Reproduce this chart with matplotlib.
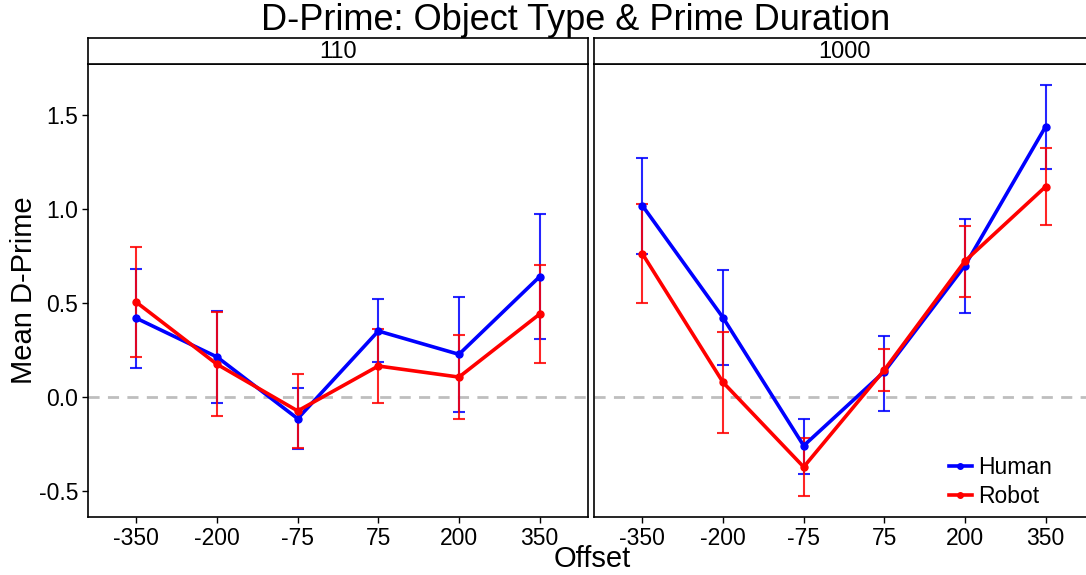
import numpy as np
import matplotlib
matplotlib.use("Agg")
import matplotlib.pyplot as plt
from matplotlib.lines import Line2D

plt.rcParams['font.family'] = ['Liberation Sans', 'DejaVu Sans']

offsets = ['-350', '-200', '-75', '75', '200', '350']
durations = ['110', '1000']

# mean d-prime, error bar low / high, per duration
human_mean = {'110': [0.419, 0.213, -0.115, 0.351, 0.227, 0.640],
              '1000': [1.018, 0.422, -0.259, 0.135, 0.699, 1.438]}
human_lo = {'110': [0.156, -0.030, -0.278, 0.186, -0.078, 0.307],
            '1000': [0.762, 0.170, -0.410, -0.073, 0.447, 1.213]}
human_hi = {'110': [0.679, 0.457, 0.046, 0.519, 0.532, 0.973],
            '1000': [1.271, 0.674, -0.115, 0.324, 0.945, 1.661]}

robot_mean = {'110': [0.504, 0.174, -0.074, 0.165, 0.106, 0.441],
              '1000': [0.762, 0.078, -0.372, 0.144, 0.723, 1.119]}
robot_lo = {'110': [0.213, -0.103, -0.270, -0.030, -0.119, 0.179],
            '1000': [0.500, -0.191, -0.527, 0.032, 0.534, 0.913]}
robot_hi = {'110': [0.798, 0.452, 0.122, 0.363, 0.330, 0.704],
            '1000': [1.025, 0.348, -0.220, 0.257, 0.911, 1.323]}

W, H = 1086, 575
fig = plt.figure(figsize=(W / 100, H / 100), dpi=100)

def fx(px):
    return px / W

def fy(px):
    return 1 - px / H

panel_left = [88, 594]
panel_w = 500
top, bottom = 64, 517
strip_top = 38

x = np.arange(1, 7)
series = [('Human', 'blue', human_mean, human_lo, human_hi),
          ('Robot', 'red', robot_mean, robot_lo, robot_hi)]

for i, dur in enumerate(durations):
    left = panel_left[i]
    ax = fig.add_axes([fx(left), fy(bottom), panel_w / W, (bottom - top) / H])
    ax.axhline(0, color='#BEBEBE', lw=2, ls=(0, (4, 3)), zorder=1)
    for name, col, m, lo, hi in series:
        mv = np.array(m[dur])
        yerr = [mv - np.array(lo[dur]), np.array(hi[dur]) - mv]
        ax.errorbar(x, mv, yerr=yerr, fmt='none', ecolor=col, elinewidth=1.5,
                    capsize=4, capthick=1.5, alpha=0.85, zorder=2)
        ax.plot(x, mv, color=col, lw=2.6, marker='o', ms=5, zorder=3, label=name)
    ax.set_xlim(0.4, 6.6)
    ax.set_ylim(-0.638, 1.771)
    ax.set_xticks(x)
    ax.set_xticklabels(offsets)
    ax.set_yticks([-0.5, 0.0, 0.5, 1.0, 1.5])
    ax.tick_params(direction='out', length=4, width=1, colors='black',
                   labelsize=16.5, pad=3)
    for sp in ax.spines.values():
        sp.set_linewidth(1.2)
    if i == 0:
        ax.set_yticklabels(['-0.5', '0.0', '0.5', '1.0', '1.5'])
    else:
        ax.tick_params(axis='y', left=False, labelleft=False)
        handles = [Line2D([], [], color='blue', lw=2.6, marker='o', ms=4),
                   Line2D([], [], color='red', lw=2.6, marker='o', ms=4)]
        ax.legend(handles, ['Human', 'Robot'], loc='lower right', frameon=False,
                  fontsize=16.5, handlelength=1.0, handletextpad=0.3,
                  labelspacing=0.25, borderaxespad=0.0,
                  bbox_to_anchor=(0.935, 0.0))
    # facet strip
    sax = fig.add_axes([fx(left), fy(top), panel_w / W, (top - strip_top) / H])
    sax.set_xticks([])
    sax.set_yticks([])
    for sp in sax.spines.values():
        sp.set_linewidth(1.2)
    sax.text(0.5, 0.45, dur, ha='center', va='center', fontsize=17,
             transform=sax.transAxes)

fig.text(fx(576), fy(20), 'D-Prime: Object Type & Prime Duration', ha='center',
         va='center', fontsize=26)
fig.text(fx(592), fy(559), 'Offset', ha='center', va='center', fontsize=21)
fig.text(fx(24), fy(290), 'Mean D-Prime', ha='center', va='center',
         fontsize=21, rotation=90)

fig.savefig('out.png', dpi=100)
